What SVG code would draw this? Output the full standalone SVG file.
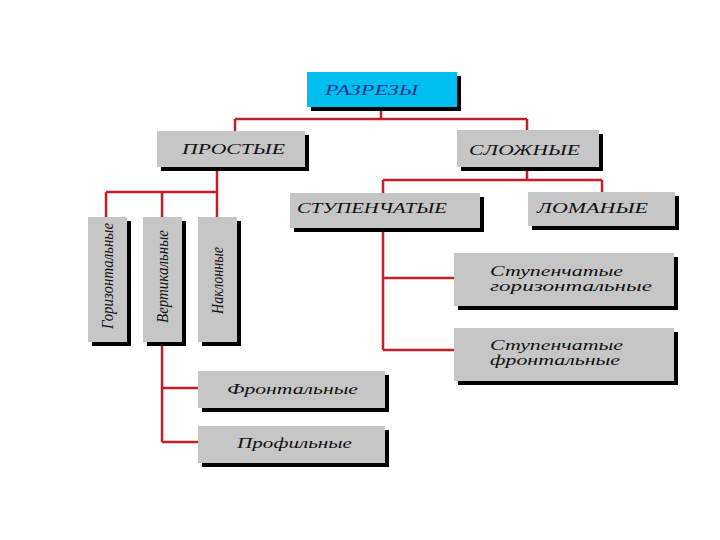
<svg xmlns="http://www.w3.org/2000/svg" width="720" height="540" viewBox="0 0 720 540">
<style>
.box{fill:#c6c6c6}
.top{fill:#00bff0}
.sh{fill:#000}
.ln{fill:none;stroke:#c41e28;stroke-width:2.5}
text{font-family:"Liberation Serif","DejaVu Serif",serif;font-style:italic;fill:#111;font-size:15px}
.cap{font-size:15px}
.vt{font-size:17px}
.hd{fill:#1a3a8a}
</style>
<rect width="720" height="540" fill="#fff"/>
<g id="connectors">
<path class="ln" d="M381 108V119M235 119H527M235 119V131M527 119V130"/>
<path class="ln" d="M527 167V180M383 180H602M383 180V193M602 180V192"/>
<path class="ln" d="M383 228V350M383 278H454M383 350H454"/>
<path class="ln" d="M217 167V192M106 192H217M106 192V217M162 192V217M217 192V217"/>
<path class="ln" d="M162 342V442M162 388H198M162 442H198"/>
</g>
<g id="razrezy">
<rect class="sh" x="311" y="76" width="150" height="35"/>
<rect class="top" x="307" y="72" width="150" height="35"/>
<text class="cap hd" x="325" y="95" textLength="93" lengthAdjust="spacingAndGlyphs">РАЗРЕЗЫ</text>
</g>
<g id="prostye">
<rect class="sh" x="161" y="135" width="148" height="36"/>
<rect class="box" x="157" y="131" width="148" height="36"/>
<text class="cap" x="182" y="154" textLength="103" lengthAdjust="spacingAndGlyphs">ПРОСТЫЕ</text>
</g>
<g id="slozhnye">
<rect class="sh" x="461" y="134" width="142" height="37"/>
<rect class="box" x="457" y="130" width="142" height="37"/>
<text class="cap" x="469" y="155" textLength="111" lengthAdjust="spacingAndGlyphs">СЛОЖНЫЕ</text>
</g>
<g id="stupenchatye">
<rect class="sh" x="294" y="197" width="190" height="35"/>
<rect class="box" x="290" y="193" width="190" height="35"/>
<text class="cap" x="297" y="213" textLength="150" lengthAdjust="spacingAndGlyphs">СТУПЕНЧАТЫЕ</text>
</g>
<g id="lomanye">
<rect class="sh" x="532" y="196" width="147" height="34"/>
<rect class="box" x="528" y="192" width="147" height="34"/>
<text class="cap" x="537" y="213" textLength="111" lengthAdjust="spacingAndGlyphs">ЛОМАНЫЕ</text>
</g>
<g id="stup-gor">
<rect class="sh" x="458" y="257" width="220" height="53"/>
<rect class="box" x="454" y="253" width="220" height="53"/>
<text x="490" y="276" textLength="133" lengthAdjust="spacingAndGlyphs">Ступенчатые</text>
<text x="490" y="291" textLength="162" lengthAdjust="spacingAndGlyphs">горизонтальные</text>
</g>
<g id="stup-front">
<rect class="sh" x="458" y="332" width="220" height="53"/>
<rect class="box" x="454" y="328" width="220" height="53"/>
<text x="490" y="350" textLength="133" lengthAdjust="spacingAndGlyphs">Ступенчатые</text>
<text x="490" y="365" textLength="130" lengthAdjust="spacingAndGlyphs">фронтальные</text>
</g>
<g id="gorizontalnye">
<rect class="sh" x="92" y="221" width="39" height="125"/>
<rect class="box" x="88" y="217" width="39" height="125"/>
<text class="vt" transform="translate(113 329) rotate(-90)" x="0" y="0" textLength="106" lengthAdjust="spacingAndGlyphs">Горизонтальные</text>
</g>
<g id="vertikalnye">
<rect class="sh" x="147" y="221" width="39" height="125"/>
<rect class="box" x="143" y="217" width="39" height="125"/>
<text class="vt" transform="translate(168 323) rotate(-90)" x="0" y="0" textLength="93" lengthAdjust="spacingAndGlyphs">Вертикальные</text>
</g>
<g id="naklonnye">
<rect class="sh" x="202" y="221" width="39" height="125"/>
<rect class="box" x="198" y="217" width="39" height="125"/>
<text class="vt" transform="translate(223 314) rotate(-90)" x="0" y="0" textLength="67" lengthAdjust="spacingAndGlyphs">Наклонные</text>
</g>
<g id="frontalnye">
<rect class="sh" x="202" y="375" width="187" height="37"/>
<rect class="box" x="198" y="371" width="187" height="37"/>
<text x="227" y="394" textLength="131" lengthAdjust="spacingAndGlyphs">Фронтальные</text>
</g>
<g id="profilnye">
<rect class="sh" x="202" y="430" width="187" height="37"/>
<rect class="box" x="198" y="426" width="187" height="37"/>
<text x="237" y="448" textLength="115" lengthAdjust="spacingAndGlyphs">Профильные</text>
</g>
</svg>
